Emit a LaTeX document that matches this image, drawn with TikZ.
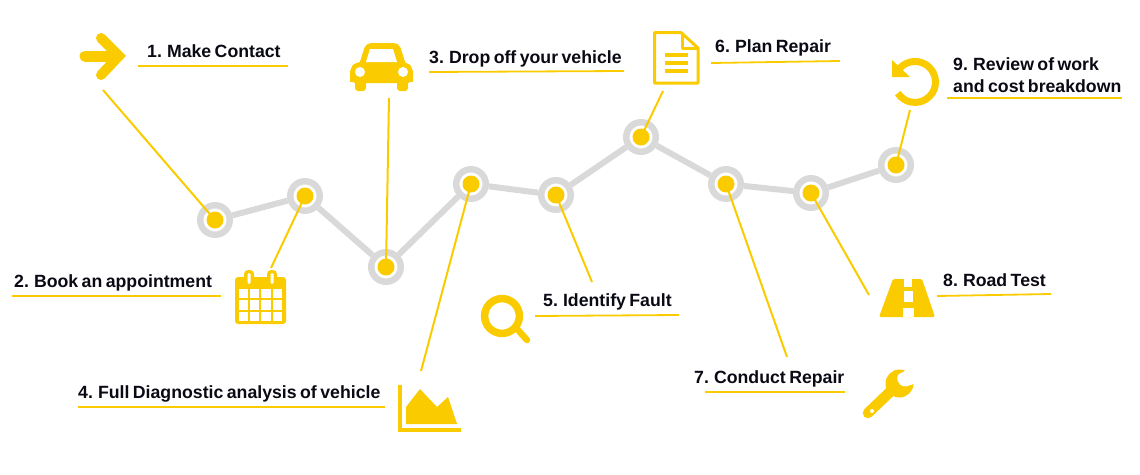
\documentclass[tikz,border=0pt]{standalone}
\usepackage{fontspec}
\setmainfont[WordSpace=0.7]{Liberation Sans}
\definecolor{ay}{HTML}{FACC00}
\definecolor{ag}{HTML}{D9D9D9}
\definecolor{at}{HTML}{0A0A14}
\tikzset{
 ringnode/.style={circle,draw=ag,line width=6.5pt,fill=white,minimum size=29.5pt,inner sep=0pt},
 dotnode/.style={circle,fill=ay,minimum size=17pt,inner sep=0pt},
 track/.style={draw=ag,line width=6pt},
 lead/.style={draw=ay,line width=2pt},
 rule/.style={draw=ay,line width=1.8pt},
 lab/.style={anchor=base west,inner sep=0pt,text=at,font=\fontsize{17.7}{22}\selectfont\bfseries},
 iconfill/.style={fill=ay,draw=none},
 iconline/.style={draw=ay,fill=none},
 hole/.style={fill=white,draw=none}
}
\begin{document}
\begin{tikzpicture}[x=1pt,y=-1pt]
\useasboundingbox (0,0) rectangle (1140,474);
% ---- track nodes
\foreach \nm/\px/\py in {r1/215/220,r2/305/196,r3/386/267,r4/471/184,r5/556/195,r6/641/137,r7/726/184,r8/811/193,r9/896/165}{
  \node[ringnode] (\nm) at (\px,\py) {};
}
\draw[track] (r1)--(r2);\draw[track] (r2)--(r3);\draw[track] (r3)--(r4);\draw[track] (r4)--(r5);
\draw[track] (r5)--(r6);\draw[track] (r6)--(r7);\draw[track] (r7)--(r8);\draw[track] (r8)--(r9);
% ---- free ends
\coordinate (e1) at (103,90);\coordinate (e2) at (271,268);\coordinate (e3) at (389,98);
\coordinate (e4) at (421,371);\coordinate (e5) at (592,282);\coordinate (e6) at (663,91);
\coordinate (e7) at (787,357);\coordinate (e8) at (869,295);\coordinate (e9) at (910,110);
\foreach \i in {1,...,9}{ \draw[lead] (e\i)--(r\i.center); }
\foreach \nm/\px/\py in {d1/215/220,d2/305/196,d3/386/267,d4/471/184,d5/556/195,d6/641/137,d7/726/184,d8/811/193,d9/896/165}{
  \node[dotnode] (\nm) at (\px,\py) {};
}
% ---- labels
\node[lab] (t1) at (147,57) {1. Make Contact};
\node[lab] (t2) at (14,287) {2. Book an appointment};
\node[lab] (t3) at (429,63) {3. Drop off your vehicle};
\node[lab] (t4) at (78,398) {4. Full Diagnostic analysis of vehicle};
\node[lab] (t5) at (543,306) {5. Identify Fault};
\node[lab] (t6) at (715,52) {6. Plan Repair};
\node[lab] (t7) at (694,383) {7. Conduct Repair};
\node[lab] (t8) at (943,286) {8. Road Test};
\node[lab] (t9a) at (953,70) {9. Review of work};
\node[lab] (t9b) at (953,92) {and cost breakdown};
% ---- rules
\coordinate (u1a) at (138,66);\coordinate (u1b) at (288,66);
\coordinate (u2a) at (12,296);\coordinate (u2b) at (221,296);
\coordinate (u3a) at (429,72);\coordinate (u3b) at (624,71);
\coordinate (u4a) at (78,407);\coordinate (u4b) at (385,407);
\coordinate (u5a) at (535,316);\coordinate (u5b) at (679,315);
\coordinate (u6a) at (711,63);\coordinate (u6b) at (840,61);
\coordinate (u7a) at (705,392);\coordinate (u7b) at (845,392);
\coordinate (u8a) at (937,296);\coordinate (u8b) at (1051,294);
\coordinate (u9a) at (947,98);\coordinate (u9b) at (1122,98);
\foreach \i in {1,...,9}{ \draw[rule] (u\i a)--(u\i b); }
% ---- icon 1 arrow
\draw[iconline,line width=10pt,line cap=round,line join=miter] (101,38)--(119,56)--(101,75);
\draw[iconline,line width=11pt,line cap=round] (85,56)--(115,56);
% ---- icon 2 calendar
\fill[iconfill,rounded corners=3pt] (235,277) rectangle (286,324);
\fill[iconfill,rounded corners=4pt] (244,270) rectangle (254,285);
\fill[iconfill,rounded corners=4pt] (267,270) rectangle (277,285);
\fill[hole,rounded corners=1.4pt] (247.5,273) rectangle (250.5,284);
\fill[hole,rounded corners=1.4pt] (270.5,273) rectangle (273.5,284);
\foreach \xa/\xb in {239/248,250/259,261/271,273/282}{
  \foreach \ya/\yb in {289/298,300/310,312/321}{
    \fill[hole] (\xa,\ya) rectangle (\xb,\yb);
  }
}
% ---- icon 3 car
\fill[iconfill,rounded corners=5pt] (358,68)--(366,43)--(399,43)--(407,68)--cycle;
\fill[iconfill,rounded corners=5pt] (350,83)--(350,68)--(356,62)--(407,62)--(413,68)--(413,83)--cycle;
\fill[iconfill] (350,74) rectangle (413,82);
\fill[iconfill,rounded corners=3pt] (355,76) rectangle (366,91);
\fill[iconfill,rounded corners=3pt] (397,76) rectangle (408,91);
\fill[hole] (370,49)--(393,49)--(397,62)--(366,62)--cycle;
\fill[hole] (360,72) circle[radius=5pt];
\fill[hole] (403,72) circle[radius=5pt];
% ---- icon 4 chart
\fill[iconfill] (398,385) rectangle (402,432);
\fill[iconfill] (398,428) rectangle (461,432);
\fill[iconfill] (406,407)--(420,389)--(437,407)--(448,397)--(457,424)--(406,424)--cycle;
% ---- icon 5 magnifier
\draw[iconline,line width=7.5pt] (502,316) circle[radius=17.4pt];
\draw[iconline,line width=6.5pt,line cap=round] (518,330)--(527,340);
% ---- icon 6 document
\draw[iconline,line width=3pt,line join=round] (654.5,32.5)--(681,32.5)--(698,48)--(698,83)--(654.5,83)--cycle;
\draw[iconline,line width=3pt,line join=round] (682,33)--(682,48)--(698,48);
\draw[iconline,line width=3.5pt] (665,55)--(688,55);
\draw[iconline,line width=3.5pt] (665,63)--(688,63);
\draw[iconline,line width=3.5pt] (665,71)--(688,71);
% ---- icon 7 wrench
\draw[iconline,line width=10.5pt,line cap=round] (868,413)--(892,390);
\fill[iconfill] (899.5,383.5) circle[radius=14pt];
\fill[hole,rounded corners=2pt] (906,370.5)--(897,375)--(898,383)--(904,387)--(914,384)--(920,375)--(912,364)--cycle;
\fill[hole] (872,411) circle[radius=2pt];
% ---- icon 8 road
\fill[iconfill,rounded corners=1.5pt] (893,279)--(922,279)--(935,317)--(879,317)--cycle;
\fill[hole] (904,279) rectangle (912,287);
\fill[hole] (903.5,291) rectangle (912.5,302);
\fill[hole] (902.5,308) rectangle (913.5,317);
% ---- icon 9 undo
\draw[iconline,line width=7pt] (900,68) arc[start angle=137,end angle=-147,radius=20.5pt];
\fill[iconfill] (892,60)--(892,77)--(910,77)--cycle;
\end{tikzpicture}
\end{document}
